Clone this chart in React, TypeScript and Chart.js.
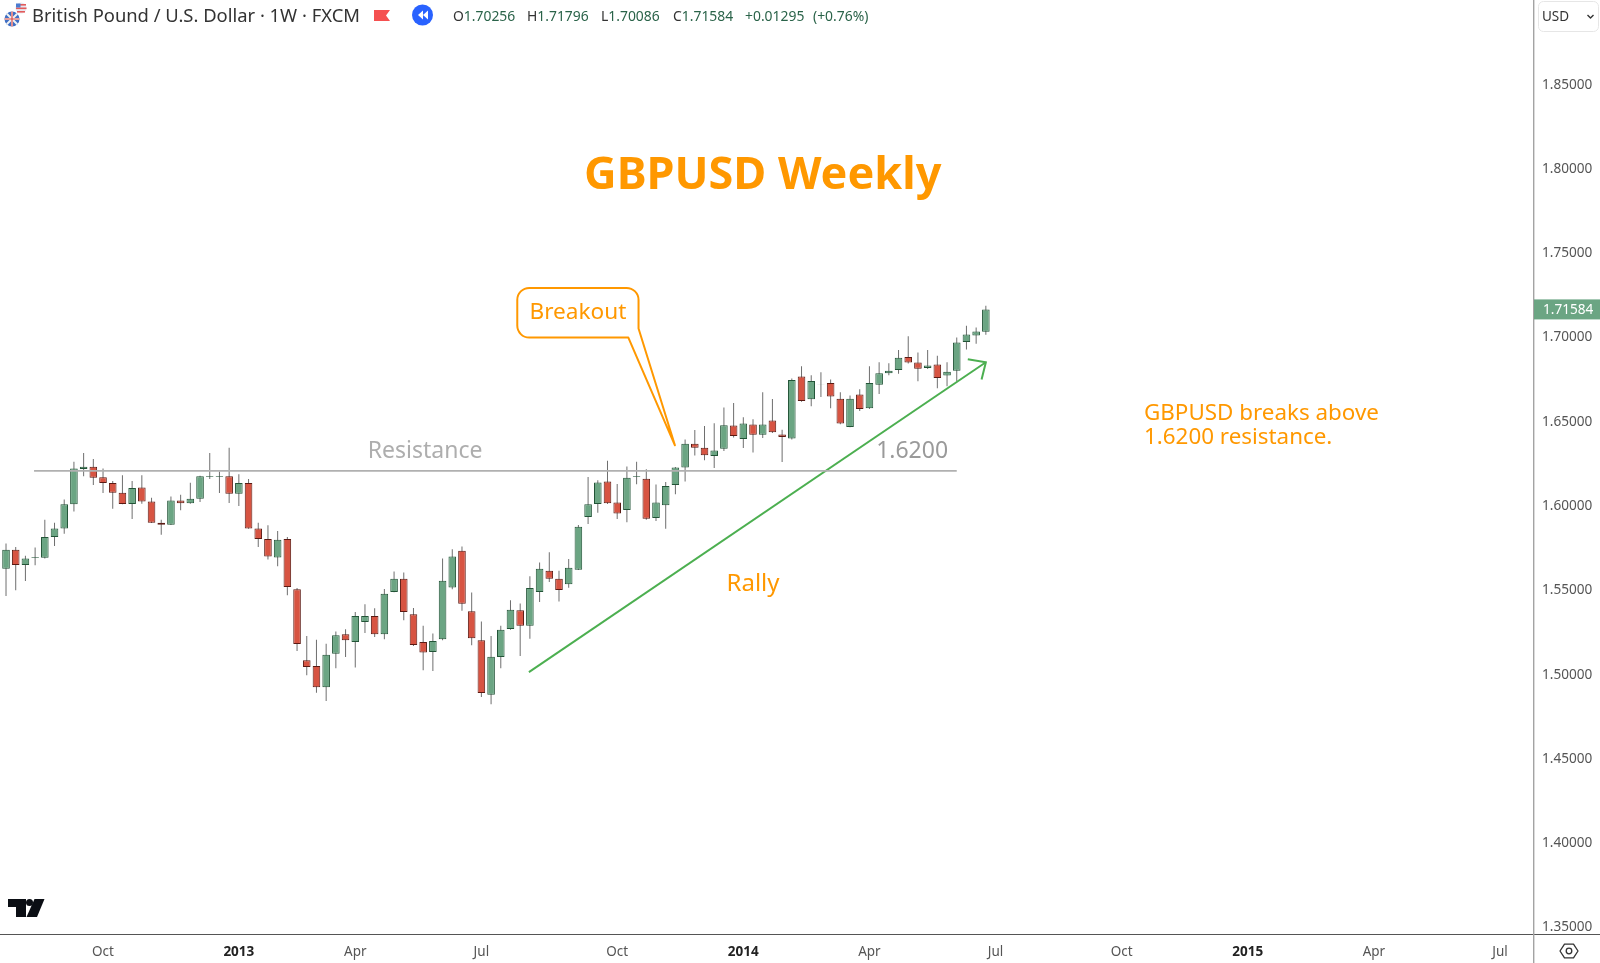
import React, { useEffect, useRef } from "react";
import { Chart, registerables } from "chart.js";

Chart.register(...registerables);

const opens = [
  1.5620, 1.5733, 1.5642, 1.5685, 1.5685, 1.5808, 1.5859, 1.6002, 1.6212, 1.6225,
  1.6162, 1.6129, 1.6071, 1.6004, 1.6101, 1.6018, 1.5893, 1.5881, 1.6024, 1.6008,
  1.6035, 1.6166, 1.6166, 1.6168, 1.6065, 1.6129, 1.5859, 1.5796, 1.5687, 1.5796,
  1.5498, 1.5076, 1.5043, 1.4916, 1.5116, 1.5231, 1.5185, 1.5304, 1.5339, 1.5231,
  1.5482, 1.5561, 1.5349, 1.5185, 1.5126, 1.5201, 1.5509, 1.5727, 1.5367, 1.5195,
  1.4872, 1.5096, 1.5262, 1.5373, 1.5282, 1.5482, 1.5608, 1.5561, 1.5527, 1.5614,
  1.5927, 1.6004, 1.6138, 1.6012, 1.5968, 1.6164, 1.6154, 1.5921, 1.5996, 1.6117,
  1.6220, 1.6362, 1.6338, 1.6289, 1.6332, 1.6469, 1.6390, 1.6475, 1.6414, 1.6499,
  1.6416, 1.6392, 1.6760, 1.6625, 1.6710, 1.6722, 1.6629, 1.6461, 1.6653, 1.6572,
  1.6712, 1.6780, 1.6799, 1.6876, 1.6843, 1.6811, 1.6831, 1.6766, 1.6795, 1.6965,
  1.7003, 1.70256,
];
const closes = [
  1.5733, 1.5642, 1.5681, 1.5689, 1.5808, 1.5859, 1.6002, 1.6214, 1.6225, 1.6160,
  1.6129, 1.6071, 1.6004, 1.6099, 1.6018, 1.5893, 1.5881, 1.6024, 1.6008, 1.6035,
  1.6168, 1.6170, 1.6170, 1.6065, 1.6129, 1.5859, 1.5796, 1.5693, 1.5792, 1.5511,
  1.5173, 1.5037, 1.4916, 1.5110, 1.5225, 1.5195, 1.5339, 1.5339, 1.5231, 1.5472,
  1.5561, 1.5363, 1.5167, 1.5122, 1.5191, 1.5549, 1.5693, 1.5412, 1.5207, 1.4882,
  1.5098, 1.5258, 1.5377, 1.5282, 1.5505, 1.5620, 1.5561, 1.5494, 1.5626, 1.5869,
  1.6002, 1.6132, 1.6008, 1.5947, 1.6160, 1.6168, 1.5917, 1.6012, 1.6111, 1.6220,
  1.6362, 1.6338, 1.6293, 1.6321, 1.6471, 1.6408, 1.6481, 1.6414, 1.6475, 1.6429,
  1.6402, 1.6740, 1.6615, 1.6734, 1.6712, 1.6641, 1.6481, 1.6629, 1.6568, 1.6722,
  1.6780, 1.6795, 1.6871, 1.6843, 1.6807, 1.6825, 1.6752, 1.6789, 1.6962, 1.7009,
  1.7027, 1.71584,
];
const highs = [
  1.5769, 1.5749, 1.5697, 1.5745, 1.5911, 1.5893, 1.6030, 1.6255, 1.6307, 1.6271,
  1.6214, 1.6140, 1.6174, 1.6140, 1.6174, 1.6041, 1.5911, 1.6049, 1.6059, 1.6130,
  1.6172, 1.6307, 1.6196, 1.6338, 1.6180, 1.6152, 1.5893, 1.5877, 1.5844, 1.5808,
  1.5505, 1.5221, 1.5199, 1.5175, 1.5248, 1.5260, 1.5363, 1.5409, 1.5385, 1.5500,
  1.5604, 1.5598, 1.5387, 1.5282, 1.5236, 1.5681, 1.5735, 1.5751, 1.5478, 1.5306,
  1.5221, 1.5282, 1.5432, 1.5414, 1.5575, 1.5656, 1.5717, 1.5608, 1.5677, 1.5879,
  1.6164, 1.6144, 1.6261, 1.6122, 1.6227, 1.6255, 1.6210, 1.6119, 1.6134, 1.6224,
  1.6386, 1.6443, 1.6467, 1.6483, 1.6576, 1.6603, 1.6518, 1.6507, 1.6667, 1.6627,
  1.6445, 1.6748, 1.6821, 1.6768, 1.6785, 1.6742, 1.6667, 1.6647, 1.6685, 1.6821,
  1.6845, 1.6839, 1.6918, 1.6999, 1.6902, 1.6918, 1.6884, 1.6845, 1.6991, 1.7062,
  1.7051, 1.71796,
];
const lows = [
  1.5458, 1.5492, 1.5547, 1.5640, 1.5681, 1.5755, 1.5828, 1.5960, 1.6168, 1.6117,
  1.6069, 1.5976, 1.6002, 1.5915, 1.6006, 1.5891, 1.5822, 1.5879, 1.5966, 1.6006,
  1.6016, 1.6152, 1.6069, 1.6010, 1.5992, 1.5857, 1.5749, 1.5674, 1.5634, 1.5462,
  1.5132, 1.4987, 1.4884, 1.4835, 1.5029, 1.5096, 1.5033, 1.5238, 1.5215, 1.5201,
  1.5480, 1.5314, 1.5161, 1.5017, 1.5013, 1.5195, 1.5498, 1.5371, 1.5165, 1.4859,
  1.4815, 1.5029, 1.5258, 1.5102, 1.5205, 1.5422, 1.5541, 1.5426, 1.5507, 1.5612,
  1.5885, 1.5952, 1.6004, 1.5915, 1.5895, 1.6121, 1.5911, 1.5903, 1.5857, 1.6062,
  1.6137, 1.6291, 1.6263, 1.6218, 1.6319, 1.6398, 1.6336, 1.6309, 1.6396, 1.6425,
  1.6253, 1.6386, 1.6611, 1.6584, 1.6639, 1.6572, 1.6477, 1.6459, 1.6556, 1.6568,
  1.6657, 1.6768, 1.6776, 1.6837, 1.6732, 1.6805, 1.6690, 1.6702, 1.6734, 1.6920,
  1.6954, 1.70086,
];

const xTickIndex = [10, 24, 36, 49, 63, 76, 89, 102, 115, 128, 141, 154];
const xTickLabels = ["Oct", "2013", "Apr", "Jul", "Oct", "2014", "Apr", "Jul", "Oct", "2015", "Apr", "Jul"];
const yTickValues = [1.35, 1.4, 1.45, 1.5, 1.55, 1.6, 1.65, 1.7, 1.75, 1.8, 1.85];

const resistanceLine = [{ x: 2.89, y: 1.62 }, { x: 98.0, y: 1.62 }];
const rallyLine = [{ x: 53.9, y: 1.5006 }, { x: 101.0, y: 1.6845 }];
const rallyArrowHead = [{ x: 99.14, y: 1.6863 }, { x: 101.0, y: 1.6845 }, { x: 100.56, y: 1.6742 }];

const lastPrice = 1.71584;
const headerTitle = "British Pound / U.S. Dollar · 1W · FXCM";
const ohlcText = [
  { key: "O", value: "1.70256", x: 453 },
  { key: "H", value: "1.71796", x: 527 },
  { key: "L", value: "1.70086", x: 601 },
  { key: "C", value: "1.71584", x: 673 },
  { key: "", value: "+0.01295", x: 745 },
  { key: "", value: "(+0.76%)", x: 813 },
];

const UP = "#6ba583";
const DOWN = "#d75442";
const UP_EDGE = "#225437";
const DOWN_EDGE = "#5b1a13";
const WICK = "#6e6e6e";
const ORANGE = "#ff9800";
const GREEN_LINE = "#4caf50";
const FONT = '"Noto Sans", sans-serif';

const overlay = {
  id: "overlay",
  afterDatasetsDraw(chart: any) {
    const { ctx, scales } = chart;
    const X = (v: number) => scales.x.getPixelForValue(v);
    const Y = (v: number) => scales.y.getPixelForValue(v);
    const text = (s: string, x: number, y: number, font: string, color: string, align: CanvasTextAlign = "left", base: CanvasTextBaseline = "alphabetic") => {
      ctx.font = font;
      ctx.fillStyle = color;
      ctx.textAlign = align;
      ctx.textBaseline = base;
      ctx.fillText(s, x, y);
    };
    ctx.save();

    // frame lines
    ctx.strokeStyle = "#555";
    ctx.lineWidth = 1;
    ctx.beginPath();
    ctx.moveTo(0, 934.5);
    ctx.lineTo(1600, 934.5);
    ctx.stroke();
    ctx.strokeStyle = "#a3a3a3";
    ctx.lineWidth = 1.4;
    ctx.beginPath();
    ctx.moveTo(1533.7, 0);
    ctx.lineTo(1533.7, 963);
    ctx.stroke();

    // annotations
    text("GBPUSD Weekly", X(78.0), Y(1.7947), `bold 45px ${FONT}`, ORANGE, "center", "middle");
    text("Resistance", X(43.2), Y(1.6277), `23px ${FONT}`, "#aeaeae", "center");
    text("1.6200", X(93.4), Y(1.6277), `23px ${FONT}`, "#9a9a9a", "center");
    text("Rally", X(77.0), Y(1.5527), `24px ${FONT}`, ORANGE, "center", "middle");
    text("GBPUSD breaks above", X(117.3), Y(1.6541), `22.4px ${FONT}`, ORANGE, "left", "middle");
    text("1.6200 resistance.", X(117.3), Y(1.6396), `22.4px ${FONT}`, ORANGE, "left", "middle");

    // callout
    const l = X(52.7), r = X(65.2), t = Y(1.7286), b = Y(1.6991), rad = 12;
    ctx.strokeStyle = ORANGE;
    ctx.lineWidth = 2;
    ctx.lineJoin = "round";
    ctx.beginPath();
    ctx.moveTo(l + rad, t);
    ctx.lineTo(r - rad, t);
    ctx.arcTo(r, t, r, t + rad, rad);
    ctx.lineTo(r, Y(1.7045));
    ctx.lineTo(X(68.95), Y(1.6352));
    ctx.lineTo(X(64.15), b);
    ctx.lineTo(l + rad, b);
    ctx.arcTo(l, b, l, b - rad, rad);
    ctx.lineTo(l, t + rad);
    ctx.arcTo(l, t, l + rad, t, rad);
    ctx.closePath();
    ctx.stroke();
    text("Breakout", X(58.95), Y(1.71), `22.6px ${FONT}`, ORANGE, "center");

    // last price tag
    const py = Y(lastPrice);
    ctx.fillStyle = UP;
    ctx.fillRect(1534, py - 10, 66, 20);
    text(lastPrice.toFixed(5), 1543, py + 1, `13.6px ${FONT}`, "#fff", "left", "middle");

    // header
    text(headerTitle, 32, 17, `18.4px ${FONT}`, "#333", "left", "middle");
    ohlcText.forEach((o) => {
      let x = o.x;
      if (o.key) {
        text(o.key, x, 17, `13.9px ${FONT}`, "#333", "left", "middle");
        x += ctx.measureText(o.key).width;
      }
      text(o.value, x, 17, `13.9px ${FONT}`, "#2a6349", "left", "middle");
    });

    // symbol icons
    ctx.fillStyle = "#e7e7ef";
    ctx.beginPath();
    ctx.arc(21, 8, 5.5, 0, Math.PI * 2);
    ctx.fill();
    ctx.fillStyle = "#e35b5b";
    ctx.fillRect(17, 4, 9, 1.6);
    ctx.fillRect(16, 7.5, 10.5, 1.6);
    ctx.fillRect(17, 11, 8, 1.6);
    ctx.fillStyle = "#4b7bd0";
    ctx.fillRect(16, 3.5, 4.5, 4);
    ctx.save();
    ctx.beginPath();
    ctx.arc(12, 19, 7.5, 0, Math.PI * 2);
    ctx.clip();
    ctx.fillStyle = "#3f6fc4";
    ctx.fillRect(4, 11, 16, 16);
    ctx.strokeStyle = "#f2f2f2";
    ctx.lineWidth = 2;
    ctx.beginPath();
    ctx.moveTo(6, 13);
    ctx.lineTo(18, 25);
    ctx.moveTo(18, 13);
    ctx.lineTo(6, 25);
    ctx.moveTo(4, 19);
    ctx.lineTo(20, 19);
    ctx.moveTo(12, 11);
    ctx.lineTo(12, 27);
    ctx.stroke();
    ctx.strokeStyle = "#d84a4a";
    ctx.lineWidth = 1.2;
    ctx.beginPath();
    ctx.moveTo(4, 19);
    ctx.lineTo(20, 19);
    ctx.moveTo(12, 11);
    ctx.lineTo(12, 27);
    ctx.stroke();
    ctx.restore();

    // red flag
    ctx.fillStyle = "#f55050";
    ctx.beginPath();
    ctx.moveTo(374, 10);
    ctx.lineTo(390, 10);
    ctx.lineTo(386, 15.5);
    ctx.lineTo(390, 21);
    ctx.lineTo(374, 21);
    ctx.closePath();
    ctx.fill();

    // blue rewind button
    ctx.fillStyle = "#2962ff";
    ctx.beginPath();
    ctx.arc(422.5, 15, 10.5, 0, Math.PI * 2);
    ctx.fill();
    ctx.fillStyle = "#fff";
    [[418, 423], [423, 428]].forEach(([a, c]) => {
      ctx.beginPath();
      ctx.moveTo(a, 15);
      ctx.lineTo(c, 10.5);
      ctx.lineTo(c, 19.5);
      ctx.closePath();
      ctx.fill();
    });

    // currency selector
    ctx.strokeStyle = "#e6e6e6";
    ctx.lineWidth = 1;
    ctx.beginPath();
    ctx.roundRect(1538.5, 1.5, 60, 30, 5);
    ctx.stroke();
    text("USD", 1542, 17, `13.5px ${FONT}`, "#333", "left", "middle");
    ctx.strokeStyle = "#333";
    ctx.lineWidth = 1.4;
    ctx.beginPath();
    ctx.moveTo(1587.5, 15);
    ctx.lineTo(1590.5, 18);
    ctx.lineTo(1593.5, 15);
    ctx.stroke();

    // logo
    ctx.fillStyle = "#0b0e14";
    ctx.beginPath();
    ctx.moveTo(8, 899);
    ctx.lineTo(26, 899);
    ctx.lineTo(26, 917);
    ctx.lineTo(16, 917);
    ctx.lineTo(16, 907);
    ctx.lineTo(8, 907);
    ctx.closePath();
    ctx.fill();
    ctx.beginPath();
    ctx.arc(29.5, 902.5, 3.5, 0, Math.PI * 2);
    ctx.fill();
    ctx.beginPath();
    ctx.moveTo(34.5, 899);
    ctx.lineTo(44.5, 899);
    ctx.lineTo(37, 917);
    ctx.lineTo(26.5, 917);
    ctx.closePath();
    ctx.fill();

    // settings hexagon
    ctx.strokeStyle = "#333";
    ctx.lineWidth = 1.3;
    ctx.beginPath();
    for (let i = 0; i < 6; i++) {
      const a = (Math.PI / 3) * i;
      const hx = 1569 + 9 * Math.cos(a);
      const hy = 951 + 8 * Math.sin(a);
      if (i === 0) ctx.moveTo(hx, hy);
      else ctx.lineTo(hx, hy);
    }
    ctx.closePath();
    ctx.stroke();
    ctx.beginPath();
    ctx.arc(1569, 951, 2.8, 0, Math.PI * 2);
    ctx.stroke();

    ctx.restore();
  },
};

export default function App() {
  const ref = useRef<HTMLCanvasElement>(null);
  useEffect(() => {
    const isUp = opens.map((o, i) => closes[i] >= o);
    const chart = new Chart(ref.current as HTMLCanvasElement, {
      type: "bar",
      data: {
        datasets: [
          {
            type: "line",
            data: resistanceLine,
            borderColor: "#b0b0b0",
            borderWidth: 1.8,
            pointRadius: 0,
            order: 1,
          },
          {
            type: "line",
            data: rallyLine,
            borderColor: GREEN_LINE,
            borderWidth: 2,
            pointRadius: 0,
            order: 1,
          },
          {
            type: "line",
            data: rallyArrowHead,
            borderColor: GREEN_LINE,
            borderWidth: 2,
            pointRadius: 0,
            order: 1,
          },
          {
            data: opens.map((o, i) => ({ x: i, y: [o, closes[i]] })),
            backgroundColor: isUp.map((u) => (u ? UP : DOWN)),
            borderColor: isUp.map((u) => (u ? UP_EDGE : DOWN_EDGE)),
            borderWidth: 1,
            borderSkipped: false,
            barThickness: 7.6,
            grouped: false,
            inflateAmount: 0,
            order: 2,
          },
          {
            data: lows.map((l, i) => ({ x: i, y: [l, highs[i]] })),
            backgroundColor: WICK,
            borderWidth: 0,
            barThickness: 1,
            grouped: false,
            inflateAmount: 0,
            order: 3,
          },
        ],
      } as any,
      options: {
        responsive: false,
        animation: false,
        events: [],
        layout: { padding: 0 },
        plugins: { legend: { display: false }, tooltip: { enabled: false }, title: { display: false } },
        scales: {
          x: {
            type: "linear",
            offset: false,
            min: -0.62,
            max: 157.4,
            grid: { display: false },
            border: { display: false },
            afterBuildTicks: (s: any) => {
              s.ticks = xTickIndex.map((v) => ({ value: v }));
            },
            afterFit: (s: any) => {
              s.height = 29;
              s.paddingLeft = 0;
              s.paddingRight = 0;
            },
            ticks: {
              autoSkip: false,
              maxRotation: 0,
              padding: 2,
              callback: (v: any) => xTickLabels[xTickIndex.indexOf(v)] ?? "",
              color: (c: any) => (/^\d/.test(c.tick?.label ?? "") ? "#222" : "#555"),
              font: (c: any) => ({
                family: FONT,
                size: 13.5,
                weight: /^\d/.test(c.tick?.label ?? "") ? "bold" : "normal",
              }),
            },
          },
          y: {
            type: "linear",
            position: "right",
            min: 1.34525,
            max: 1.89942,
            grid: { display: false },
            border: { display: false },
            afterBuildTicks: (s: any) => {
              s.ticks = yTickValues.map((v) => ({ value: v }));
            },
            afterFit: (s: any) => {
              s.width = 67;
              s.paddingTop = 0;
              s.paddingBottom = 0;
            },
            ticks: {
              padding: 1,
              labelOffset: 1.5,
              color: "#555",
              font: { family: FONT, size: 13.6 },
              callback: (v: any) => Number(v).toFixed(5),
            },
          },
        },
      } as any,
      plugins: [overlay],
    });
    return () => chart.destroy();
  }, []);
  return (
    <div style={{ position: "fixed", left: 0, top: 0, width: 1600, height: 963, background: "#fff" }}>
      <canvas ref={ref} width={1600} height={963} style={{ display: "block" }} />
    </div>
  );
}
